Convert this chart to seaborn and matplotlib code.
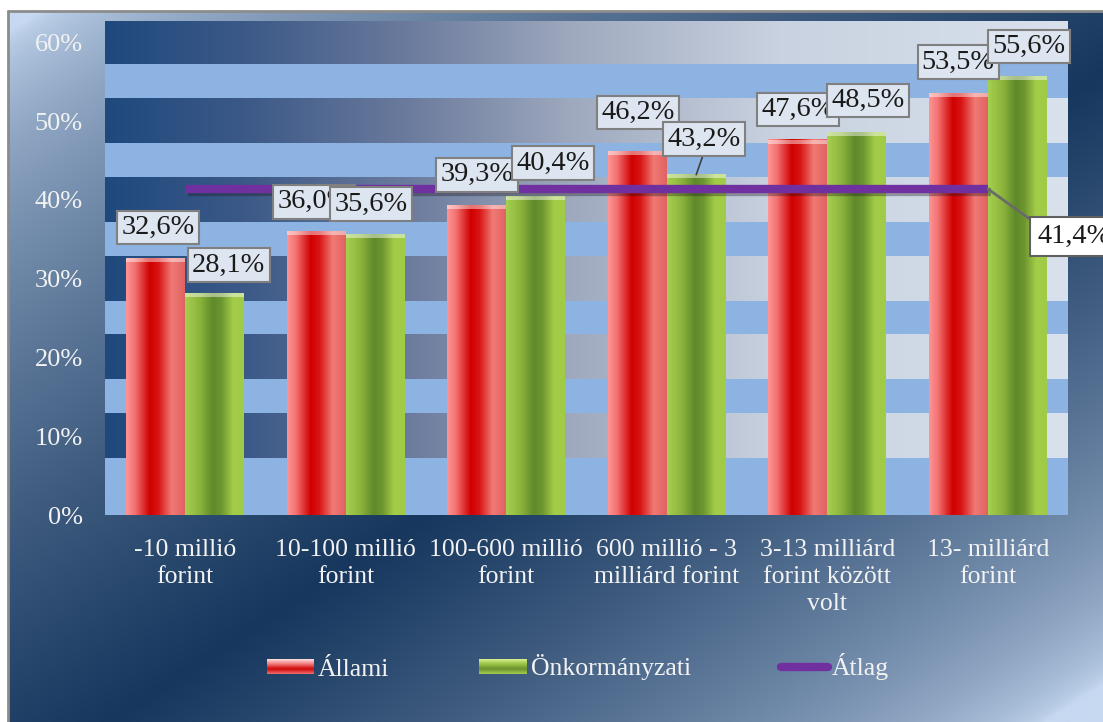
import numpy as np
import pandas as pd
import matplotlib
matplotlib.use("Agg")
import matplotlib.pyplot as plt
import matplotlib.patheffects as pe
import seaborn as sns
from matplotlib.colors import LinearSegmentedColormap, to_rgb
from matplotlib.patches import Rectangle
from matplotlib.lines import Line2D
from matplotlib.legend_handler import HandlerBase

# ---------------- data ----------------
categories = ["-10 millió\nforint", "10-100 millió\nforint", "100-600 millió\nforint",
              "600 millió - 3\nmilliárd forint", "3-13 milliárd\nforint között\nvolt",
              "13- milliárd\nforint"]
allami = [32.6, 36.0, 39.3, 46.2, 47.6, 53.5]
onkormanyzati = [28.1, 35.6, 40.4, 43.2, 48.5, 55.6]
atlag = [41.4, 41.4, 41.4, 41.4, 41.4, 41.4]
series_names = ["Állami", "Önkormányzati"]
line_name = "Átlag"
ytick_values = [0, 10, 20, 30, 40, 50, 60]

# label placement tweaks (pixels): horizontal shift, gap above bar top
allami_dx = [2, -2, 0, 1, 0, 0]
allami_gap = [10, 9, 10, 18, 10, 11]
onk_dx = [14, -4, 17, 8, 11, 12]
onk_gap = [8, 10, 13, 15, 12, 10]

# ---------------- style ----------------
sns.set_theme(style="white")
plt.rcParams["font.family"] = ["Liberation Serif", "DejaVu Serif"]

W, H, DPI = 1103, 722, 100
fig = plt.figure(figsize=(W / DPI, H / DPI), dpi=DPI, facecolor="white")

# ---------- outer gradient background ----------
bg = fig.add_axes([0, 0, 1, 1], zorder=-10)
bg.set_axis_off()
nx, ny = 300, 200
X, Y = np.meshgrid(np.linspace(8, W, nx), np.linspace(11, H, ny))
u = X / W + Y / H
peak = 1.1
D = np.where(u < peak, 1 - (peak - u) / 1.05, 1 - (u - peak) / 0.85)
D = np.clip(D, 0, 1) ** 0.6
dark = np.array(to_rgb("#17375E"))
light = np.array(to_rgb("#C6D9F1"))
img = light * (1 - D[..., None]) + dark * D[..., None]
x0f, y1f = 8 / W, 1 - 11 / H
bg.imshow(img, extent=[x0f, 1, 0, y1f], aspect="auto", origin="upper",
          interpolation="bilinear")
bg.plot([x0f, x0f], [0, y1f], color="#8C8C8C", lw=2)
bg.plot([x0f, 1], [y1f, y1f], color="#8C8C8C", lw=2)
bg.set_xlim(0, 1)
bg.set_ylim(0, 1)

# ---------- main axes ----------
ax = fig.add_axes([105 / W, 1 - 515 / H, (1068 - 105) / W, (515 - 21) / H])
ymax = 62.7

df = pd.DataFrame({
    "cat": categories * 2,
    "val": allami + onkormanyzati,
    "series": [series_names[0]] * 6 + [series_names[1]] * 6,
})
sns.barplot(data=df, x="cat", y="val", hue="series",
            palette=["#E03030", "#8DB43A"], width=0.735, saturation=1,
            legend=False, ax=ax, linewidth=0, zorder=2)

xlo, xhi = -0.5, len(categories) - 0.5

# striped plot-area texture
ax.set_facecolor("#8DB3E2")
band_cmap = LinearSegmentedColormap.from_list(
    "band", [(0, "#1F497D"), (0.15, "#3D5A88"), (0.31, "#6A7A9C"),
             (0.49, "#A0AABF"), (0.7, "#C8D2E0"), (1.0, "#D8E1EC")])
band_img = band_cmap(np.linspace(0, 1, 256))[None, :, :3]
for c in ytick_values[1:]:
    ax.imshow(band_img, extent=[xlo, xhi, c - 2.8, min(c + 2.8, ymax)],
              aspect="auto", zorder=0.5, interpolation="bilinear")

# cylinder-like gradients on bars
red_cmap = LinearSegmentedColormap.from_list(
    "red", [(0, "#FF9494"), (0.15, "#F27272"), (0.4, "#D00000"),
            (0.55, "#D81414"), (0.78, "#F07A74"), (1.0, "#E06262")])
green_cmap = LinearSegmentedColormap.from_list(
    "green", [(0, "#A6D050"), (0.25, "#8CB43C"), (0.47, "#5E8A2A"),
              (0.62, "#6E9630"), (0.82, "#A3CD48"), (1.0, "#A0CB46")])
for cont, cmap in zip(ax.containers, [red_cmap, green_cmap]):
    grad = cmap(np.linspace(0, 1, 128))[None, :, :3]
    cap = 0.55 * grad + 0.45
    for p in cont.patches:
        x0, w, h = p.get_x(), p.get_width(), p.get_height()
        p.set_alpha(0)
        ax.imshow(grad, extent=[x0, x0 + w, 0, h], aspect="auto", zorder=2,
                  interpolation="bilinear")
        ax.imshow(cap, extent=[x0, x0 + w, h - 0.45, h], aspect="auto",
                  zorder=2.1, interpolation="bilinear")

# average line
sns.lineplot(x=np.arange(len(atlag)), y=atlag, ax=ax, color="#7030A0",
             linewidth=6, zorder=4, legend=False,
             path_effects=[pe.SimpleLineShadow(offset=(2, -2), alpha=0.35),
                           pe.Normal()])
ax.lines[-1].set_solid_capstyle("butt")

ax.set_xlim(xlo, xhi)
ax.set_ylim(0, ymax)


def fmt(v):
    return f"{v:.1f}".replace(".", ",") + "%"


LABEL_FS = 20.4
box_kw = dict(boxstyle="square,pad=0.15", fc="#DDE6F0", ec="#808080", lw=1.5)
for i in range(len(categories)):
    for cont, vals, dxs, gaps in [(ax.containers[0], allami, allami_dx, allami_gap),
                                  (ax.containers[1], onkormanyzati, onk_dx, onk_gap)]:
        p = cont.patches[i]
        cx = p.get_x() + p.get_width() / 2
        top = p.get_height()
        kw = {}
        if gaps[i] >= 15 and cont is ax.containers[1]:
            kw["arrowprops"] = dict(arrowstyle="-", color="#404040", lw=1.2,
                                    relpos=(0.5, 0), shrinkA=0, shrinkB=0)
        ax.annotate(fmt(vals[i]), xy=(cx, top), xytext=(dxs[i], gaps[i] + 20.5),
                    textcoords="offset pixels", ha="center", va="center",
                    fontsize=LABEL_FS, color="#1A1A1A", bbox=box_kw, zorder=6,
                    annotation_clip=False, **kw)

# average label on the right
ax.annotate(fmt(atlag[-1]), xy=(len(atlag) - 1, atlag[-1]), xytext=(86, -48),
            textcoords="offset pixels", ha="center", va="center", fontsize=LABEL_FS,
            color="#1A1A1A",
            bbox=dict(boxstyle="square,pad=0.25", fc="white", ec="#606060", lw=1.5),
            arrowprops=dict(arrowstyle="-", color="#6A6A6A", lw=2, relpos=(0, 1),
                            shrinkA=0, shrinkB=0),
            zorder=6, annotation_clip=False)

# axes styling
ax.set_yticks(ytick_values)
ax.set_yticklabels([f"{v}%" for v in ytick_values])
ax.set_xlabel("")
ax.set_ylabel("")
ax.tick_params(axis="y", colors="#F2F2F2", labelsize=19, pad=16, length=0)
ax.tick_params(axis="x", colors="#F2F2F2", labelsize=18.5, pad=17, length=0)
for lab in ax.get_xticklabels():
    lab.set_multialignment("center")
    lab.set_linespacing(1.3)
for s in ax.spines.values():
    s.set_visible(False)
ax.grid(False)


# ---------- legend ----------
class GradHandler(HandlerBase):
    def __init__(self, colors):
        super().__init__()
        self.colors = colors

    def create_artists(self, legend, orig_handle, xdescent, ydescent, width,
                       height, fontsize, trans):
        cmap = LinearSegmentedColormap.from_list("lg", self.colors)
        n = 14
        arts = []
        for k in range(n):
            arts.append(Rectangle((-xdescent, -ydescent + height * k / n), width,
                                  height / n + 0.3, facecolor=cmap((k + 0.5) / n),
                                  edgecolor="none", transform=trans))
        return arts


h_red = Rectangle((0, 0), 1, 1)
h_green = Rectangle((0, 0), 1, 1)
h_line = Line2D([], [], color="#7030A0", lw=6, solid_capstyle="round")
leg = fig.legend([h_red, h_green, h_line], series_names + [line_name],
                 loc="center", bbox_to_anchor=(578 / W, 1 - 667 / H), ncol=3,
                 frameon=False, fontsize=18.5, handlelength=1.85, handleheight=0.5,
                 handletextpad=0.15, columnspacing=3.5, labelcolor="#F2F2F2",
                 handler_map={
                     h_red: GradHandler(["#F07070", "#D01010", "#F08080", "#FFE0E0"]),
                     h_green: GradHandler(["#A5CF4F", "#6E9630", "#9CC648", "#D8F090"]),
                 })

fig.savefig("out.png", dpi=DPI, facecolor="white")
